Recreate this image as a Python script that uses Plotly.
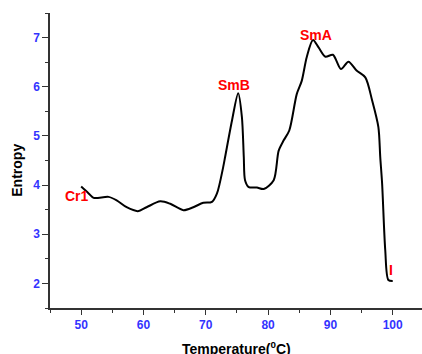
import plotly.graph_objects as go

temperature = [50, 51.2, 52, 54.4, 55.7, 57.3, 59.1, 60.5, 62.7, 64.3, 66.4, 68, 69.6, 71, 71.8,
               72.8, 73.1, 74.2, 75.2, 75.8, 76.1, 76.3, 76.9, 78.2, 79.3, 80.9, 81.7, 82.5, 83.4,
               84.6, 85.4, 86.2, 87.2, 88.1, 89.2, 90.4, 91.7, 92.9, 94.2, 95.6, 96.7, 97.7, 98.0,
               98.3, 98.8, 99.3, 100]
entropy = [3.97, 3.83, 3.74, 3.76, 3.69, 3.55, 3.47, 3.55, 3.67, 3.62, 3.49, 3.55, 3.64, 3.66, 3.83,
           4.37, 4.57, 5.31, 5.87, 5.38, 4.57, 4.10, 3.96, 3.95, 3.92, 4.10, 4.70, 4.91, 5.11,
           5.85, 6.12, 6.60, 6.95, 6.80, 6.61, 6.65, 6.36, 6.51, 6.33, 6.19, 5.72, 5.18, 4.57,
           4.03, 2.68, 2.07, 2.05]

phase_labels = ["Cr1", "SmB", "SmA", "I"]
phase_x = [49.4, 74.6, 87.7, 99.8]
phase_y = [3.77, 6.04, 7.05, 2.27]

x_ticks = [50, 60, 70, 80, 90, 100]
y_ticks = [2, 3, 4, 5, 6, 7]

fig = go.Figure()
fig.add_trace(go.Scatter(x=temperature, y=entropy, mode="lines",
                         line=dict(color="black", width=2, shape="spline", smoothing=0.8),
                         showlegend=False, hoverinfo="skip"))

for t, xv, yv in zip(phase_labels, phase_x, phase_y):
    fig.add_annotation(x=xv, y=yv, text=t, showarrow=False,
                       font=dict(family="Liberation Sans, Arial", size=14, color="#ff0000"),
                       xanchor="center", yanchor="middle")

tick_font = dict(family="Liberation Sans, Arial", size=12, color="#3333ff", weight="bold")
title_font = dict(family="Liberation Sans, Arial", size=14, color="black", weight="bold")

fig.update_xaxes(range=[45, 104.7], tickvals=x_ticks, ticks="outside", ticklen=5, tickwidth=1.2,
                 tickcolor="#333", showline=True, linecolor="#333", linewidth=1.5,
                 showgrid=False, zeroline=False, tickfont=tick_font,
                 minor=dict(dtick=5, tick0=45, ticks="outside", ticklen=3, tickcolor="#333", tickwidth=1.2))
fig.update_yaxes(range=[1.5, 7.5], tickvals=y_ticks, ticks="outside", ticklen=6, tickwidth=1.2,
                 tickcolor="#333", showline=True, linecolor="#333", linewidth=1.5,
                 showgrid=False, zeroline=False, tickfont=tick_font,
                 minor=dict(dtick=0.5, tick0=1.5, ticks="outside", ticklen=3, tickcolor="#333", tickwidth=1.2))

fig.add_annotation(xref="paper", yref="paper", x=0.5, y=-0.1355, text="Temperature(<sup>0</sup>C)",
                   showarrow=False, font=title_font, xanchor="center", yanchor="middle")
fig.add_annotation(xref="paper", yref="paper", x=-0.0874, y=0.467, text="Entropy", textangle=-90,
                   showarrow=False, font=title_font, xanchor="center", yanchor="middle")

fig.update_layout(width=422, height=354, margin=dict(l=50, r=0, t=13, b=46),
                  plot_bgcolor="white", paper_bgcolor="white",
                  font=dict(family="Liberation Sans, Arial"))
fig.update_annotations(font_weight="bold")
fig.write_html("out.html")
